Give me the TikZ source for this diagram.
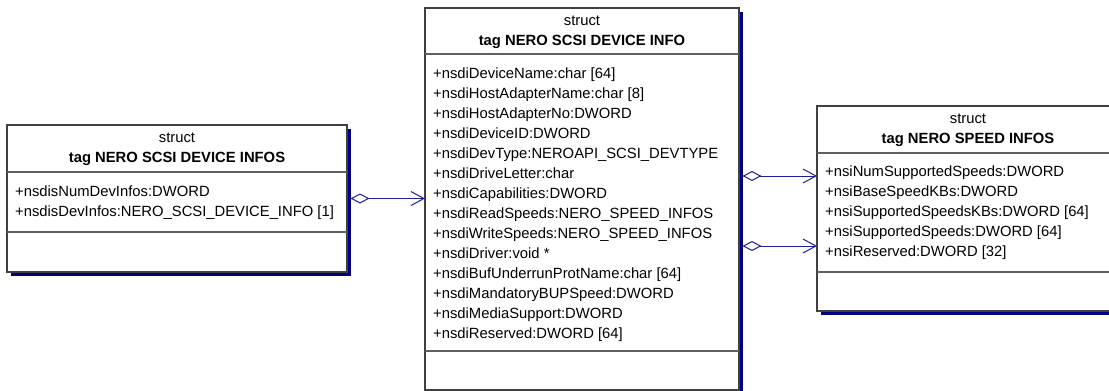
\documentclass[tikz,border=0pt]{standalone}
\usepackage{fontspec}
\setmainfont{Liberation Sans}
\usetikzlibrary{arrows.meta,shadows}
\definecolor{shadowblue}{HTML}{000080}
\definecolor{linkblue}{HTML}{1E1EA0}
\definecolor{framegray}{HTML}{404040}
\definecolor{rulegray}{HTML}{606060}
\tikzset{
  classbox/.style={draw=framegray, line width=1.2pt, fill=white, inner sep=0pt,
    outer sep=0pt, anchor=north west,
    drop shadow={shadow xshift=3.5pt, shadow yshift=-3.5pt, fill=shadowblue, opacity=1}},
  compart/.style={draw=rulegray, line width=1.2pt},
  attr/.style={anchor=base west, inner sep=0pt, font=\fontsize{14.8}{18}\selectfont},
  stereo/.style={anchor=base, inner sep=0pt, font=\fontsize{14.8}{18}\selectfont},
  classname/.style={anchor=base, inner sep=0pt, font=\fontsize{14.8}{18}\selectfont\bfseries},
  assoc/.style={draw=linkblue, line width=1pt,
    {Diamond[open,length=19pt,width=10pt]}-{Straight Barb[length=13pt,width=14pt]}}
}
\begin{document}
\begin{tikzpicture}[x=1pt,y=-1pt]
\useasboundingbox[fill=white] (0,0) rectangle (1109,391);

% class boxes
\node[classbox, minimum width=340pt, minimum height=147pt] (L) at (7,125) {};
\node[classbox, minimum width=314pt, minimum height=382pt] (C) at (425,8) {};
\node[classbox, minimum width=302pt, minimum height=205pt] (R) at (817,106) {};

% compartment rules
\draw[compart] ([yshift=-47pt]L.north west) -- ([yshift=-47pt]L.north east);
\draw[compart] ([yshift=-107pt]L.north west) -- ([yshift=-107pt]L.north east);
\draw[compart] ([yshift=-46pt]C.north west) -- ([yshift=-46pt]C.north east);
\draw[compart] ([yshift=-343pt]C.north west) -- ([yshift=-343pt]C.north east);
\draw[compart] ([yshift=-47pt]R.north west) -- ([yshift=-47pt]R.north east);
\draw[compart] ([yshift=-166pt]R.north west) -- ([yshift=-166pt]R.north east);

% headers
\node[stereo] (Ls) at ([yshift=-17pt]L.north) {struct};
\node[classname] (Lt) at ([yshift=-37pt]L.north) {tag NERO SCSI DEVICE INFOS};
\node[stereo] (Cs) at ([yshift=-17pt]C.north) {struct};
\node[classname] (Ct) at ([yshift=-37pt]C.north) {tag NERO SCSI DEVICE INFO};
\node[stereo] (Rs) at ([yshift=-17pt]R.north) {struct};
\node[classname] (Rt) at ([yshift=-37pt]R.north) {tag NERO SPEED INFOS};

% attributes
\foreach \t [count=\i] in {
  {+nsdisNumDevInfos:DWORD},
  {+nsdisDevInfos:NERO\_SCSI\_DEVICE\_INFO [1]}}
  \node[attr] (l\i) at (15,176+20*\i) {\t};

\foreach \t [count=\i] in {
  {+nsdiDeviceName:char [64]},
  {+nsdiHostAdapterName:char [8]},
  {+nsdiHostAdapterNo:DWORD},
  {+nsdiDeviceID:DWORD},
  {+nsdiDevType:NEROAPI\_SCSI\_DEVTYPE},
  {+nsdiDriveLetter:char},
  {+nsdiCapabilities:DWORD},
  {+nsdiReadSpeeds:NERO\_SPEED\_INFOS},
  {+nsdiWriteSpeeds:NERO\_SPEED\_INFOS},
  {+nsdiDriver:void *},
  {+nsdiBufUnderrunProtName:char [64]},
  {+nsdiMandatoryBUPSpeed:DWORD},
  {+nsdiMediaSupport:DWORD},
  {+nsdiReserved:DWORD [64]}}
  \node[attr] (c\i) at (433,58+20*\i) {\t};

\foreach \t [count=\i] in {
  {+nsiNumSupportedSpeeds:DWORD},
  {+nsiBaseSpeedKBs:DWORD},
  {+nsiSupportedSpeedsKBs:DWORD [64]},
  {+nsiSupportedSpeeds:DWORD [64]},
  {+nsiReserved:DWORD [32]}}
  \node[attr] (r\i) at (825,156+20*\i) {\t};

% associations
\draw[assoc] ([xshift=3.5pt]L.east) -- (C.west |- L.east);
\coordinate (k1) at ([yshift=32.5pt]R.west);
\coordinate (k2) at ([yshift=-37.5pt]R.west);
\draw[assoc] ([xshift=3.5pt]C.east |- k1) -- (k1);
\draw[assoc] ([xshift=3.5pt]C.east |- k2) -- (k2);
\end{tikzpicture}
\end{document}
